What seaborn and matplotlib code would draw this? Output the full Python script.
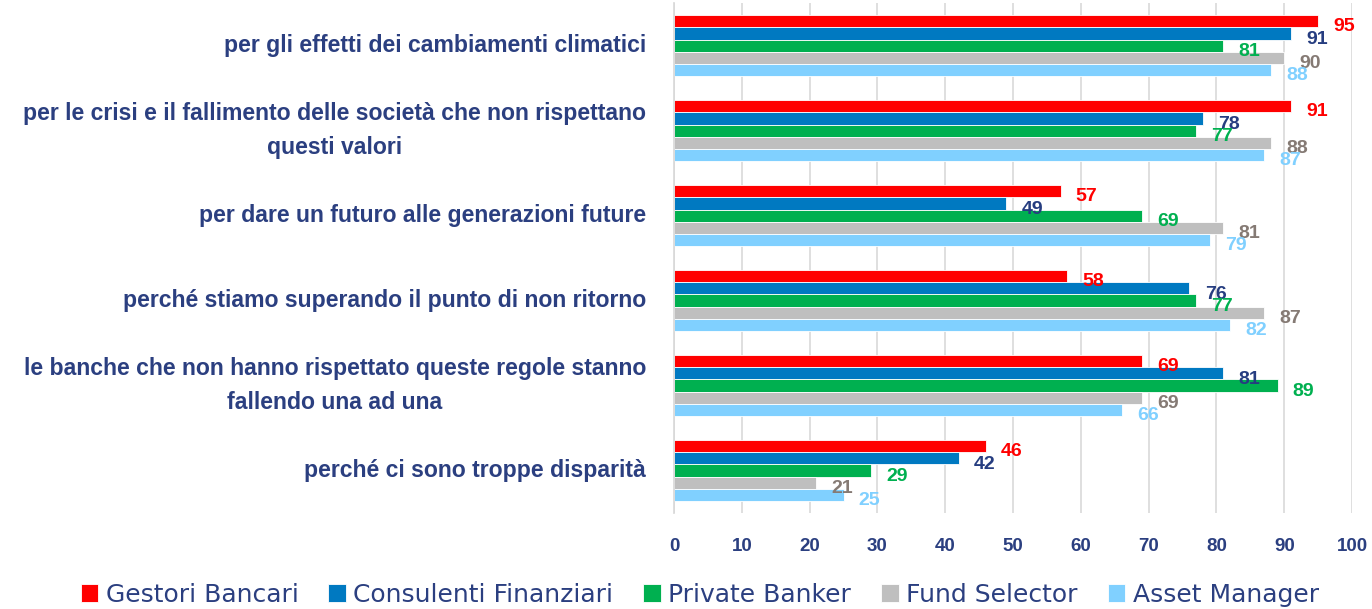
import pandas as pd
import matplotlib.pyplot as plt
import seaborn as sns

# chart values
categories = [
    "per gli effetti dei cambiamenti climatici",
    "per le crisi e il fallimento delle società che non rispettano\nquesti valori",
    "per dare un futuro alle generazioni future",
    "perché stiamo superando il punto di non ritorno",
    "le banche che non hanno rispettato queste regole stanno\nfallendo una ad una",
    "perché ci sono troppe disparità",
]
series = ["Gestori Bancari", "Consulenti Finanziari", "Private Banker", "Fund Selector", "Asset Manager"]
gestori = [95, 91, 57, 58, 69, 46]
consulenti = [91, 78, 49, 76, 81, 42]
private = [81, 77, 69, 77, 89, 29]
fund = [90, 88, 81, 87, 69, 21]
asset = [88, 87, 79, 82, 66, 25]

bar_colors = ["#FF0000", "#0079C1", "#00B050", "#BFBFBF", "#80D0FF"]
label_colors = ["#FF0000", "#263D80", "#00B050", "#857A74", "#80D0FF"]
navy = "#2B3F80"

rows = []
for name, vals in zip(series, [gestori, consulenti, private, fund, asset]):
    for cat, v in zip(categories, vals):
        rows.append({"categoria": cat, "serie": name, "valore": v})
df = pd.DataFrame(rows)

sns.set_theme(style="white")
plt.rcParams['font.family'] = ['DejaVu Sans']

fig = plt.figure(figsize=(13.72, 6.09), dpi=100)
ax = fig.add_axes([0.4913, 0.1576, 0.4942, 0.8374])

sns.barplot(data=df, y="categoria", x="valore", hue="serie", orient="h",
            palette=bar_colors, width=0.71, gap=0, saturation=1,
            edgecolor="white", linewidth=0.6, ax=ax, legend=True)

for cont, col in zip(ax.containers, label_colors):
    anns = ax.bar_label(cont, padding=10, color=col, fontsize=14, fontweight="bold",
                        family="Liberation Sans")
    for a in anns:
        a.xyann = (11, -4)

ax.set_xlim(0, 100)
ax.set_xticks(range(0, 101, 10))
ax.grid(axis="x", color="#D9D9D9", linewidth=1.2)
ax.set_axisbelow(True)
for s in ["top", "right", "bottom"]:
    ax.spines[s].set_visible(False)
ax.spines["left"].set_color("#D9D9D9")
ax.set_xlabel("")
ax.set_ylabel("")
ax.tick_params(axis="x", colors=navy, labelsize=13.5, pad=18, length=0)
ax.tick_params(axis="y", colors=navy, labelsize=16.6, pad=20, length=0)
for t in ax.get_xticklabels():
    t.set_fontweight("bold")
    t.set_family("Liberation Sans")
for t in ax.get_yticklabels():
    t.set_fontweight("bold")
    t.set_family("Liberation Sans")
    t.set_multialignment("center")
    t.set_linespacing(1.6)
    t.set_verticalalignment("center")

handles, labels = ax.get_legend_handles_labels()
ax.legend_.remove()
fig.legend(handles, labels, loc="center", bbox_to_anchor=(0.51, 0.023), ncol=5,
           frameon=False, fontsize=18, labelcolor=navy, handlelength=0.7,
           handleheight=0.7, handletextpad=0.3, columnspacing=1.2)

fig.savefig("out.png", dpi=100)
